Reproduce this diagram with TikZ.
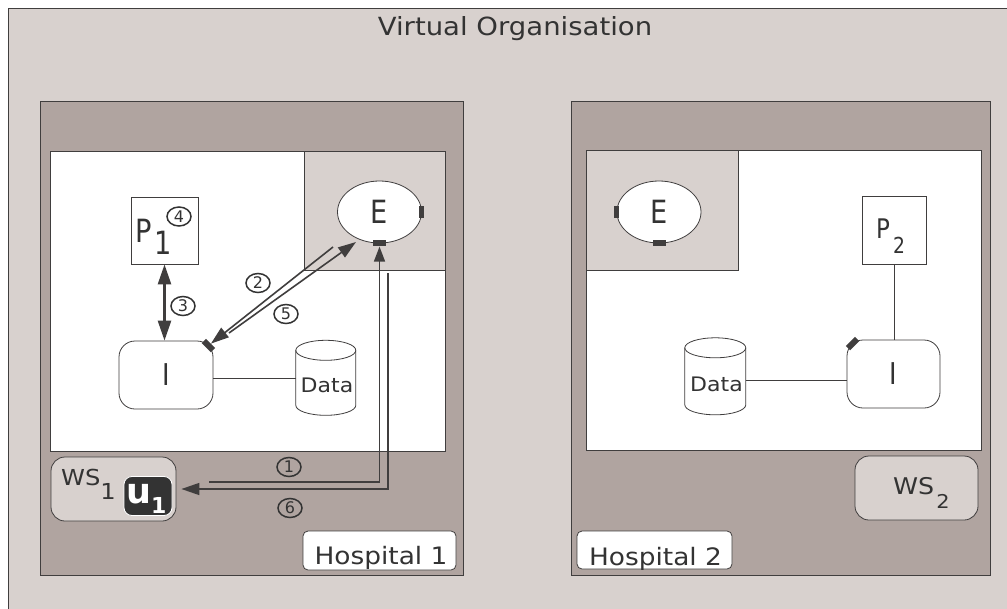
\documentclass[tikz,border=0pt]{standalone}
\usepackage{fontspec}
\setmainfont{DejaVu Sans}[FakeStretch=1.1]
\newfontfamily\narrowf{DejaVu Sans}[FakeStretch=0.85]
\newfontfamily\plainf{DejaVu Sans}
\usetikzlibrary{arrows.meta,shapes.geometric,calc}
\definecolor{bgc}{RGB}{216,209,206}
\definecolor{hosp}{RGB}{176,164,160}
\definecolor{ink}{RGB}{64,62,62}
\definecolor{txt}{RGB}{51,51,51}
\newcommand{\fsz}[1]{\fontsize{#1}{#1}\selectfont}
\tikzset{
  hospbox/.style={draw=ink,fill=hosp,line width=1,inner sep=0},
  innerbox/.style={draw=ink,fill=white,line width=1,inner sep=0},
  eregion/.style={draw=ink,fill=bgc,line width=1,inner sep=0},
  ent/.style={ellipse,draw=ink,fill=white,line width=0.8,minimum width=84,minimum height=62,inner sep=0,text=txt,font=\narrowf\fsz{32}},
  porth/.style={fill=ink,inner sep=0,minimum width=13,minimum height=6},
  portv/.style={fill=ink,inner sep=0,minimum width=5,minimum height=12},
  procbox/.style={draw=ink,fill=white,line width=0.8,inner sep=0},
  ibox/.style={draw=ink,fill=white,rounded corners=16,line width=0.8,inner sep=0,text=txt,font=\narrowf\fsz{30}},
  wsbox/.style={draw=ink,fill=bgc,rounded corners=14,line width=0.8,inner sep=0},
  ubox/.style={draw=white,fill=txt,rounded corners=8,line width=0.8,inner sep=0},
  hlabel/.style={draw=ink,fill=white,rounded corners=5,line width=0.8,inner sep=0},
  cnum/.style={ellipse,draw=txt,line width=1.5,minimum width=24,minimum height=19,inner sep=0,font=\plainf\fsz{16},text=txt},
  cyl/.style={draw=ink,fill=white,line width=0.8},
  thinline/.style={draw=ink,line width=0.9},
  flow/.style={draw=ink,line width=1.6},
  headA/.style={-{Triangle[length=18pt,width=12pt]}},
  headB/.style={-{Triangle[length=15pt,width=11pt]}},
  lbl/.style={text=txt,inner sep=0},
}
\begin{document}
\begin{tikzpicture}[x=1pt,y=-1pt]
\useasboundingbox (0,0) rectangle (1007,608);
\fill[white] (0,0) rectangle (1007,608);
\draw[fill=bgc,draw=ink,line width=1] (8,8) rectangle (1030,630);
\node[lbl,anchor=base,font=\fsz{25}] (title) at (515,35) {Virtual Organisation};

% ---------------- Hospital 1
\node[hospbox,minimum width=423,minimum height=474] (h1) at (251.5,338) {};
\node[innerbox,minimum width=395,minimum height=300] (w1) at (247.5,301) {};
\node[eregion,minimum width=141,minimum height=119] (er1) at (374.5,210.5) {};
\node[ent] (e1) at (379.5,212) {E};
\node[portv] (e1r) at (e1.east) {};
\node[porth] (e1b) at (e1.south) {};

\node[procbox,minimum width=67,minimum height=67] (p1) at (164.5,230.5) {};
\node[lbl,anchor=base west,font=\narrowf\fsz{32}] (p1t) at (135,242) {P\hspace{3pt}\raisebox{-12pt}{1}};
\node[cnum] (n4) at (179,216.5) {4};

\node[ibox,minimum width=94,minimum height=68] (i1) at (166,375) {I};
\node[porth,rotate=-45] (i1p) at ($(i1.north east)+(-5,5)$) {};

\node[inner sep=0,minimum width=60,minimum height=75] (d1) at (326,378) {};
\draw[cyl] ($(d1.north west)+(0,10)$) -- ++(0,55) arc[start angle=180,end angle=0,x radius=30,y radius=10] -- ++(0,-55) arc[start angle=0,end angle=-180,x radius=30,y radius=10] -- cycle;
\draw[cyl,fill=none] ($(d1.north west)+(0,10)$) arc[start angle=180,end angle=0,x radius=30,y radius=10];
\node[lbl,anchor=base,font=\fsz{20}] (d1t) at (327,392) {Data};
\draw[thinline] (d1.west -| i1.east) -- (d1.west);

% arrow 3
\draw[draw=ink,line width=2.6,{Triangle[length=20pt,width=13pt]}-{Triangle[length=20pt,width=13pt]}] (p1.south) -- (p1.south |- i1.north);
\node[cnum] (n3) at (183,306) {3};

% arrows 2 / 5
\coordinate (a1) at (333,247);
\draw[flow,headA] (a1) -- (i1p);
\coordinate (b1) at (229,333);
\coordinate (eb) at (356,242);
\draw[flow,headA] (b1) -- (eb);
\node[cnum] (n2) at (258,283) {2};
\node[cnum] (n5) at (286,314) {5};

% WS1 and u1
\node[wsbox,minimum width=125,minimum height=64] (ws1) at (113.5,489) {};
\node[lbl,anchor=base west,font=\fsz{22}] (ws1t) at (61,485) {WS\raisebox{-14pt}{1}};
\node[ubox,minimum width=48,minimum height=39] (u1) at (148,496) {};
\node[lbl,anchor=base west,text=white,font=\plainf\bfseries\fsz{35}] (u1t) at (126,503) {u\raisebox{-10pt}{\fsz{22}1}};

% arrows 1 / 6
\coordinate (c1) at (209,482);
\draw[flow,headB] (c1) -- (c1 -| e1b) -- (e1b);
\coordinate (c6) at (388,273);
\draw[flow,headA,shorten >=5pt] (c6) |- (ws1.east);
\node[cnum] (n1) at (289,467) {1};
\node[cnum] (n6) at (290,508) {6};

\node[hlabel,minimum width=153,minimum height=39] (h1l) at (379.5,550.5) {};
\node[lbl,anchor=base,font=\fsz{24}] (h1t) at (381,564) {Hospital 1};

% ---------------- Hospital 2
\node[hospbox,minimum width=419,minimum height=474] (h2) at (780.5,338) {};
\node[innerbox,minimum width=395,minimum height=300] (w2) at (783.5,300) {};
\node[eregion,minimum width=152,minimum height=120] (er2) at (662,210) {};
\node[ent] (e2) at (659,212) {E};
\node[portv] (e2l) at (e2.west) {};
\node[porth] (e2b) at (e2.south) {};

\node[procbox,minimum width=64,minimum height=68] (p2) at (894,230) {};
\node[lbl,anchor=base west,font=\narrowf\fsz{27}] (p2t) at (876,238) {P\hspace{3pt}\raisebox{-15pt}{\fsz{22}2}};

\node[ibox,minimum width=93,minimum height=68] (i2) at (893.5,374) {I};
\node[porth,rotate=45] (i2p) at ($(i2.north west)+(6,4)$) {};
\draw[thinline] (p2.south) -- (p2.south |- i2.north);

\node[inner sep=0,minimum width=61,minimum height=77] (d2) at (715.5,376.5) {};
\draw[cyl] ($(d2.north west)+(0,10)$) -- ++(0,57) arc[start angle=180,end angle=0,x radius=30.5,y radius=10] -- ++(0,-57) arc[start angle=0,end angle=-180,x radius=30.5,y radius=10] -- cycle;
\draw[cyl,fill=none] ($(d2.north west)+(0,10)$) arc[start angle=180,end angle=0,x radius=30.5,y radius=10];
\node[lbl,anchor=base,font=\fsz{20}] (d2t) at (716.5,391) {Data};
\coordinate (d2r) at ($(d2.east)+(0,3.5)$);
\draw[thinline] (d2r) -- (d2r -| i2.west);

\node[wsbox,minimum width=123,minimum height=64] (ws2) at (916.5,488) {};
\node[lbl,anchor=base west,font=\fsz{23}] (ws2t) at (893,494) {WS\hspace{2pt}\raisebox{-14pt}{\fsz{19}2}};

\node[hlabel,minimum width=155,minimum height=38] (h2l) at (654.5,550) {};
\node[lbl,anchor=base,font=\fsz{24}] (h2t) at (655.5,565) {Hospital 2};
\end{tikzpicture}
\end{document}
